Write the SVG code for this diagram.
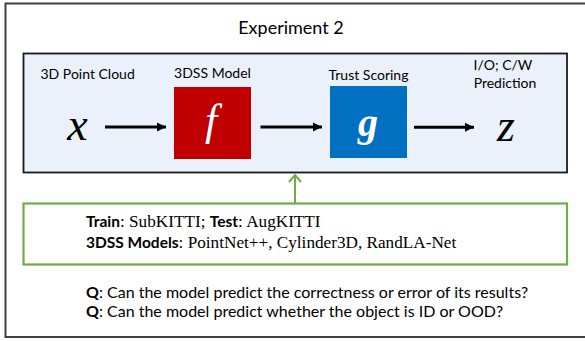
<svg xmlns="http://www.w3.org/2000/svg" width="585" height="341" viewBox="0 0 585 341">
  <defs>
    <marker id="ah" markerUnits="userSpaceOnUse" markerWidth="10" markerHeight="10" refX="9" refY="5" orient="auto">
      <path d="M0,0.5 L9,5 L0,9.5 Z" fill="#000"/>
    </marker>
    <marker id="ahg" markerUnits="userSpaceOnUse" markerWidth="14" markerHeight="14" refX="8" refY="7" orient="auto">
      <path d="M1,1 L8,7 L1,13" fill="none" stroke="#70AD47" stroke-width="2"/>
    </marker>
  </defs>
  <style>
    .sans { font-family: Lato, "Liberation Sans", sans-serif; }
    .serif { font-family: "Liberation Serif", serif; }
    .lbl { font-size: 14px; }
    .arrow { stroke: #000; stroke-width: 3; fill: none; }
  </style>
  <rect x="5.5" y="3.5" width="590" height="333.5" fill="#fff" stroke="#404040" stroke-width="2"/>
  <text class="sans" x="291" y="34" font-size="18" text-anchor="middle">Experiment 2</text>

  <g id="pipeline">
    <rect x="23.5" y="53.5" width="543.5" height="119" fill="#EAF1FA" stroke="#1a1a1a" stroke-width="1.8"/>
  </g>

  <g id="input">
    <text class="sans lbl" x="40.5" y="78.5">3D Point Cloud</text>
    <text x="77.5" y="139.5" text-anchor="middle" font-family="Liberation Serif" font-style="italic" font-size="46">x</text>
  </g>

  <g id="model">
    <text class="sans lbl" x="212.5" y="78" text-anchor="middle">3DSS Model</text>
    <rect x="174" y="87" width="77" height="72" fill="#C00000"/>
    <text x="211" y="135" text-anchor="middle" fill="#fff" font-family="Liberation Serif" font-style="italic" font-size="44">f</text>
  </g>

  <g id="trust">
    <text class="sans lbl" x="368.5" y="79.5" text-anchor="middle">Trust Scoring</text>
    <rect x="330" y="86" width="77" height="72" fill="#0070C0"/>
    <text x="368" y="136" text-anchor="middle" fill="#fff" font-family="Liberation Serif" font-style="italic" font-weight="bold" font-size="40">g</text>
  </g>

  <g id="output">
    <text class="sans lbl" x="503" y="70" text-anchor="middle">I/O; C/W</text>
    <text class="sans lbl" x="505" y="88" text-anchor="middle">Prediction</text>
    <text x="506" y="141" text-anchor="middle" font-family="Liberation Serif" font-style="italic" font-size="46">z</text>
  </g>

  <g id="settings">
    <rect x="23.5" y="203.5" width="543.5" height="61" fill="#fff" stroke="#70AD47" stroke-width="2.2"/>
    <text x="86" y="227" font-size="17.2"><tspan class="sans" font-weight="bold" font-size="15.5">Train</tspan><tspan class="serif">: SubKITTI; </tspan><tspan class="sans" font-weight="bold" font-size="15.5">Test</tspan><tspan class="serif">: AugKITTI</tspan></text>
    <text x="86" y="247.5" font-size="17.2"><tspan class="sans" font-weight="bold" font-size="15.5">3DSS Models</tspan><tspan class="serif">: PointNet++, Cylinder3D, RandLA-Net</tspan></text>
  </g>

  <g id="connectors">
    <line class="arrow" x1="105" y1="127" x2="166" y2="127" marker-end="url(#ah)"/>
    <line class="arrow" x1="260.5" y1="127" x2="322" y2="127" marker-end="url(#ah)"/>
    <line class="arrow" x1="414" y1="127.3" x2="474" y2="127.3" marker-end="url(#ah)"/>
    <line x1="295" y1="203" x2="295" y2="175" stroke="#70AD47" stroke-width="2" marker-end="url(#ahg)"/>
  </g>

  <g id="questions">
    <text class="sans" x="86" y="298" font-size="16"><tspan font-weight="bold">Q</tspan>: Can the model predict the correctness or error of its results?</text>
    <text class="sans" x="86" y="317" font-size="16"><tspan font-weight="bold">Q</tspan>: Can the model predict whether the object is ID or OOD?</text>
  </g>
</svg>
